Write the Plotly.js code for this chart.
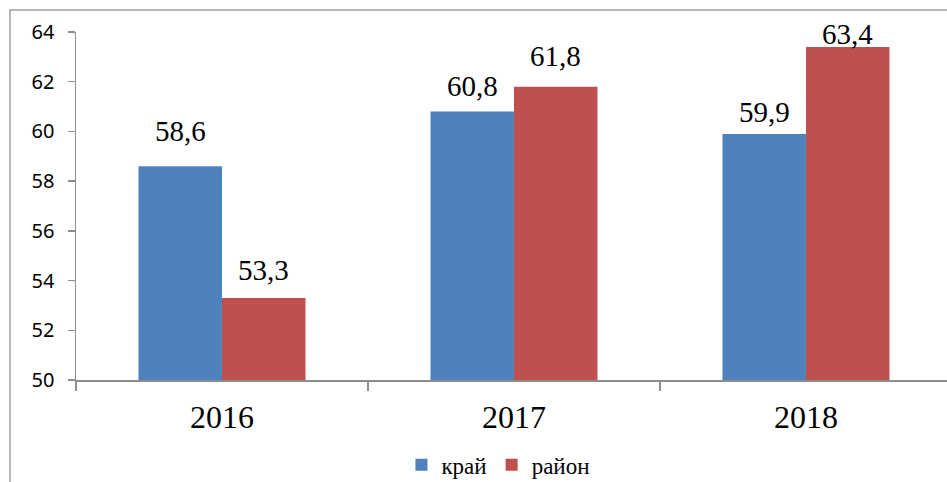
<!DOCTYPE html>
<html>
<head>
<meta charset="utf-8">
<script src="https://cdn.plot.ly/plotly-3.0.1.min.js"></script>
<style>
  html, body { margin: 0; padding: 0; background: #ffffff; }
  #chart { width: 947px; height: 482px; }
</style>
</head>
<body>
<div id="chart"></div>
<script>
// ---- data ----
const years = ['2016', '2017', '2018'];
const seriesNames = ['край', 'район'];
const kraiValues = [58.6, 60.8, 59.9];
const raionValues = [53.3, 61.8, 63.4];
const kraiLabels = ['58,6', '60,8', '59,9'];
const raionLabels = ['53,3', '61,8', '63,4'];
const yTickValues = [50, 52, 54, 56, 58, 60, 62, 64];

// ---- styling ----
const colors = ['#4F81BD', '#C0504D'];
const serif = 'Liberation Serif';
// vertical lift (px) of each data label's centre above its bar top
const kraiLift = [35, 26, 22];
const raionLift = [28, 31, 13];
const barHalf = 41.7; // px offset of each bar's centre from the category centre

const traces = [
  {
    type: 'bar', name: seriesNames[0], x: years, y: kraiValues,
    marker: { color: colors[0] }, hoverinfo: 'skip'
  },
  {
    type: 'bar', name: seriesNames[1], x: years, y: raionValues,
    marker: { color: colors[1] }, hoverinfo: 'skip'
  }
];

const annotations = [];
years.forEach((yr, i) => {
  annotations.push({
    x: i, y: kraiValues[i], xref: 'x', yref: 'y', text: kraiLabels[i],
    showarrow: false, xshift: -barHalf, yshift: kraiLift[i], yanchor: 'middle', xanchor: 'center',
    font: { family: serif, size: 29, color: '#000000' }
  });
  annotations.push({
    x: i, y: raionValues[i], xref: 'x', yref: 'y', text: raionLabels[i],
    showarrow: false, xshift: barHalf, yshift: raionLift[i], yanchor: 'middle', xanchor: 'center',
    font: { family: serif, size: 29, color: '#000000' }
  });
});

const layout = {
  width: 947, height: 482,
  font: { family: serif, color: '#000000' },
  margin: { l: 76, r: 0, t: 32, b: 102, autoexpand: false },
  paper_bgcolor: '#ffffff', plot_bgcolor: '#ffffff',
  barmode: 'group', bargap: 0.428, bargroupgap: 0,
  showlegend: true,
  legend: {
    orientation: 'h', x: 0.485, xanchor: 'center', y: -0.244, yanchor: 'middle',
    font: { family: serif, size: 23, color: '#000000' },
    itemwidth: 30, traceorder: 'normal', bgcolor: 'rgba(0,0,0,0)'
  },
  xaxis: {
    type: 'category', range: [-0.5, 2.483],
    showline: true, linecolor: '#8c8c8c', linewidth: 1.5,
    ticks: 'outside', tickson: 'boundaries', ticklen: 9, tickcolor: '#8c8c8c', tickwidth: 1.5,
    showgrid: false, zeroline: false,
    tickfont: { family: serif, size: 32, color: '#000000' },
    ticklabelstandoff: 8
  },
  yaxis: {
    range: [50, 64], tickvals: yTickValues, ticktext: yTickValues.map(String),
    showline: true, linecolor: '#8c8c8c', linewidth: 1.5,
    ticks: 'outside', ticklen: 7, tickcolor: '#8c8c8c', tickwidth: 1.5,
    showgrid: false, zeroline: false,
    tickfont: { family: 'Noto Sans', size: 20, color: '#000000' },
    ticklabelstandoff: 9
  },
  annotations: annotations,
  shapes: [{
    type: 'rect', xref: 'paper', yref: 'paper',
    x0: (10 - 76) / 871, x1: 1.2, y0: -0.5, y1: (380 - 10) / 348,
    line: { color: '#a0a0a0', width: 1.5 }, fillcolor: 'rgba(0,0,0,0)', layer: 'below'
  }]
};

Plotly.newPlot('chart', traces, layout, { staticPlot: true, displayModeBar: false });
</script>
</body>
</html>
